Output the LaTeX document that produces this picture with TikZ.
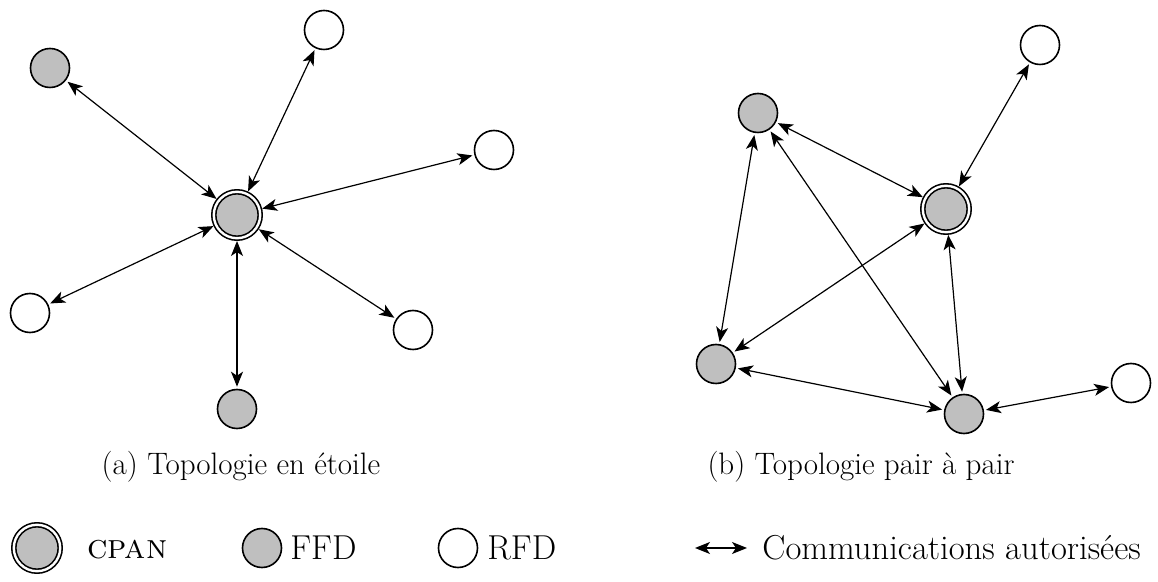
\documentclass[tikz,border=0pt]{standalone}
\usepackage{tikz}
\usetikzlibrary{arrows.meta}

\tikzset{
  ffd/.style={circle,draw,line width=0.8pt,fill=gray!50,minimum size=19.5pt,inner sep=0pt},
  rfd/.style={circle,draw,line width=0.8pt,fill=white,minimum size=19.5pt,inner sep=0pt},
  cpan/.style={ffd,minimum size=23.2pt,double,double distance=1.2pt},
  lien/.style={<->,line width=0.6pt,shorten <=1pt,shorten >=1pt},
  texte/.style={font=\fontsize{15.5}{19}\selectfont},
  legende/.style={font=\fontsize{17.3}{21}\selectfont,anchor=west,inner sep=0pt}
}

\begin{document}
\begin{tikzpicture}[line cap=round,line join=round,>={Stealth[length=7.5pt,width=6pt,inset=2pt]},x=0.5pt,y=-0.5pt]

	\useasboundingbox (0,0) rectangle (1158,582);

	% (a) etoile
	\node[cpan] (cA) at (237,215) {};
	\node[ffd] (fA1) at (50,68) {};
	\node[rfd] (rA1) at (324,30) {};
	\node[rfd] (rA2) at (494,150) {};
	\node[rfd] (rA3) at (30,313) {};
	\node[rfd] (rA4) at (413,330) {};
	\node[ffd] (fA2) at (237,409) {};

	\foreach \n in {fA1,rA1,rA2,rA3,rA4,fA2}
	{\draw[lien] (cA) -- (\n);}

	\node[texte] (tA) at (241,467) {(a) Topologie en \'etoile};

	% (b) pair a pair
	\node[cpan] (cB) at (946,209) {};
	\node[ffd] (fB1) at (758,113) {};
	\node[rfd] (rB1) at (1040,45) {};
	\node[ffd] (fB2) at (716,364) {};
	\node[ffd] (fB3) at (964,414) {};
	\node[rfd] (rB2) at (1131,383) {};

	\draw[lien] (fB1) -- (cB);
	\draw[lien] (cB) -- (rB1);
	\draw[lien] (fB1) -- (fB2);
	\draw[lien] (fB1) -- (fB3);
	\draw[lien] (cB) -- (fB2);
	\draw[lien] (cB) -- (fB3);
	\draw[lien] (fB2) -- (fB3);
	\draw[lien] (fB3) -- (rB2);

	\node[texte] (tB) at (861,467) {(b) Topologie pair \`a pair};

	% legende
	\node[cpan] (lC) at (37,548) {};
	\node[legende] (lCt) at (87,550) {\textsc{cpan}};
	\node[ffd] (lF) at (262,548) {};
	\node[legende] (lFt) at (290,548) {FFD};
	\node[rfd] (lR) at (458,548) {};
	\node[legende] (lRt) at (487,548) {RFD};
	\coordinate (l1) at (693,548);
	\coordinate (l2) at (749,548);
	\draw[lien] (l1) -- (l2);
	\node[legende] (lLt) at (762,548) {Communications autoris\'ees};

\end{tikzpicture}
\end{document}
